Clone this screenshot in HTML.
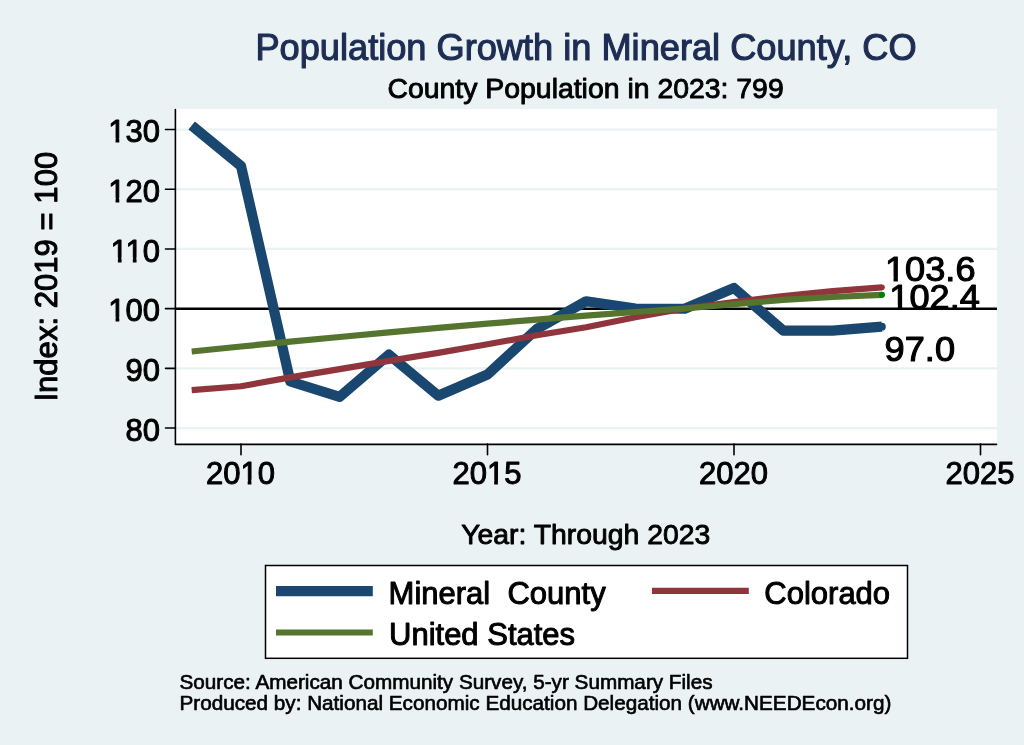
<!DOCTYPE html>
<html><head><meta charset="utf-8"><title>Population Growth in Mineral County, CO</title>
<style>
html,body{margin:0;padding:0;background:#eaf2f3;}
body{width:1024px;height:745px;overflow:hidden;}
svg{display:block;will-change:transform;}
text{font-family:"Liberation Sans",Arial,Helvetica,sans-serif;fill:#000;stroke:#000;stroke-width:0.032em;stroke-linejoin:round;}
</style></head><body>
<svg width="1024" height="745" viewBox="0 0 1024 745">
<rect x="0" y="0" width="1024" height="745" fill="#eaf2f3"/>
<!-- plot region -->
<rect x="175" y="109" width="822" height="335" fill="#ffffff"/>
<!-- grid -->
<g stroke="#eaf2f3" stroke-width="2.3">
<line x1="175" x2="997" y1="129.55" y2="129.55"/>
<line x1="175" x2="997" y1="189.25" y2="189.25"/>
<line x1="175" x2="997" y1="248.95" y2="248.95"/>
<line x1="175" x2="997" y1="368.35" y2="368.35"/>
<line x1="175" x2="997" y1="428.05" y2="428.05"/>
</g>
<g font-size="36.2px">
<g transform="translate(0,281.3) scale(1,0.955) translate(0,-281.3)">
<text x="885" y="281.3">103.6</text>
<rect x="886.18" y="276.72" width="7.35" height="6.46" fill="#ffffff"/><rect x="897.88" y="276.72" width="7.06" height="6.46" fill="#ffffff"/>
</g>
<g transform="translate(0,309.4) scale(1,0.955) translate(0,-309.4)">
<text x="889.3" y="309.4">102.4</text>
<rect x="890.48" y="304.82" width="7.35" height="6.46" fill="#ffffff"/><rect x="902.18" y="304.82" width="7.06" height="6.46" fill="#ffffff"/>
</g>
<g transform="translate(0,361.2) scale(1,0.955) translate(0,-361.2)">
<text x="884.6" y="361.2">97.0</text>
</g>
</g>
<line x1="175" x2="997" y1="308.75" y2="308.75" stroke="#000" stroke-width="2.3"/>
<polyline points="191.7,125.5 241.0,166 290.3,381.5 339.6,396.8 388.9,354.6 438.2,395.7 487.5,374.5 536.8,329.0 586.1,301.3 635.4,308.5 684.7,308.75 734.0,288 783.3,330.6 832.6,330.6 881.9,326.7" fill="none" stroke="#1a476f" stroke-width="10.2" stroke-linejoin="round" stroke-linecap="butt"/>
<polyline points="191.7,390.2 241.0,386.25 290.3,377.4 339.6,369.1 388.9,360.9 438.2,352.9 487.5,344.3 536.8,335.3 586.1,327.3 635.4,317.3 684.7,308.5 734.0,302 783.3,296 832.6,291.2 881.9,287.3" fill="none" stroke="#90353b" stroke-width="6.2" stroke-linejoin="round"/>
<polyline points="191.7,351.5 241.0,346.5 290.3,341.7 339.6,337.0 388.9,332.4 438.2,327.8 487.5,323.6 536.8,319.6 586.1,315.7 635.4,312.0 684.7,308.5 734.0,304.2 783.3,299.9 832.6,297.0 881.9,294.8" fill="none" stroke="#55752f" stroke-width="6.2" stroke-linejoin="round"/>
<circle cx="881.9" cy="326.7" r="3.9" fill="#1a476f"/>
<circle cx="881.9" cy="287.3" r="2.9" fill="#90353b"/>
<circle cx="881.9" cy="294.8" r="3.1" fill="#008000"/>
<g stroke="#000" stroke-width="1.6" fill="none" stroke-linecap="round">
<polyline points="175.4,109.5 175.4,444.4 996.5,444.4" stroke-linejoin="round"/>
<line x1="165.5" x2="175" y1="129.55" y2="129.55"/>
<line x1="165.5" x2="175" y1="189.25" y2="189.25"/>
<line x1="165.5" x2="175" y1="248.95" y2="248.95"/>
<line x1="165.5" x2="175" y1="308.65" y2="308.65"/>
<line x1="165.5" x2="175" y1="368.35" y2="368.35"/>
<line x1="165.5" x2="175" y1="428.05" y2="428.05"/>
<line x1="241.0" x2="241.0" y1="444" y2="454.7"/>
<line x1="487.5" x2="487.5" y1="444" y2="454.7"/>
<line x1="734.0" x2="734.0" y1="444" y2="454.7"/>
<line x1="980.5" x2="980.5" y1="444" y2="454.7"/>
</g>
<g font-size="31px" text-anchor="end">
<text x="160" y="142.15">130</text>
<rect x="109.13" y="138.04" width="6.43" height="5.91" fill="#eaf2f3"/><rect x="119.30" y="138.04" width="6.19" height="5.91" fill="#eaf2f3"/>
<text x="160" y="201.85">120</text>
<rect x="109.13" y="197.74" width="6.43" height="5.91" fill="#eaf2f3"/><rect x="119.30" y="197.74" width="6.19" height="5.91" fill="#eaf2f3"/>
<text x="160" y="261.55">110</text>
<rect x="111.44" y="257.44" width="6.43" height="5.91" fill="#eaf2f3"/><rect x="121.61" y="257.44" width="6.19" height="5.91" fill="#eaf2f3"/>
<rect x="126.38" y="257.44" width="6.43" height="5.91" fill="#eaf2f3"/><rect x="136.55" y="257.44" width="6.19" height="5.91" fill="#eaf2f3"/>
<text x="160" y="321.25">100</text>
<rect x="109.13" y="317.14" width="6.43" height="5.91" fill="#eaf2f3"/><rect x="119.30" y="317.14" width="6.19" height="5.91" fill="#eaf2f3"/>
<text x="160" y="380.95">90</text>
<text x="160" y="440.65">80</text>
</g>
<g font-size="31px" text-anchor="middle">
<text x="240.4" y="483.7">2010</text>
<rect x="241.25" y="479.59" width="6.43" height="5.91" fill="#eaf2f3"/><rect x="251.41" y="479.59" width="6.19" height="5.91" fill="#eaf2f3"/>
<text x="486.9" y="483.7">2015</text>
<rect x="487.75" y="479.59" width="6.43" height="5.91" fill="#eaf2f3"/><rect x="497.91" y="479.59" width="6.19" height="5.91" fill="#eaf2f3"/>
<text x="733.4" y="483.7">2020</text>
<text x="979.9" y="483.7">2025</text>
</g>
<text x="586" y="59.5" font-size="36.2px" text-anchor="middle" style="fill:#1e2d53;stroke:#1e2d53">Population Growth in Mineral County, CO</text>
<text x="585.6" y="98.2" font-size="28.4px" text-anchor="middle">County Population in 2023: 799</text>
<text x="585.8" y="543.5" font-size="28.35px" text-anchor="middle">Year: Through 2023</text>
<text transform="translate(57,276.7) rotate(-90)" font-size="31.1px" text-anchor="middle">Index: 2019 = 100</text>
<rect x="265.5" y="565.5" width="642" height="92.8" fill="#fff" stroke="#000" stroke-width="1.5"/>
<line x1="276" x2="372.8" y1="591.1" y2="591.1" stroke="#1a476f" stroke-width="10.3"/>
<line x1="652" x2="748.8" y1="590.9" y2="590.9" stroke="#90353b" stroke-width="6.2"/>
<line x1="276" x2="372.8" y1="632.5" y2="632.5" stroke="#55752f" stroke-width="6.2"/>
<g font-size="31px">
<text x="388.6" y="603.9" xml:space="preserve">Mineral  County</text>
<text x="764.3" y="603.9">Colorado</text>
<text x="389" y="645.4">United States</text>
</g>
<g font-size="20.7px">
<text x="179.5" y="689">Source: American Community Survey, 5-yr Summary Files</text>
<text x="179.5" y="710.1">Produced by: National Economic Education Delegation (www.NEEDEcon.org)</text>
</g>
</svg>
</body></html>
